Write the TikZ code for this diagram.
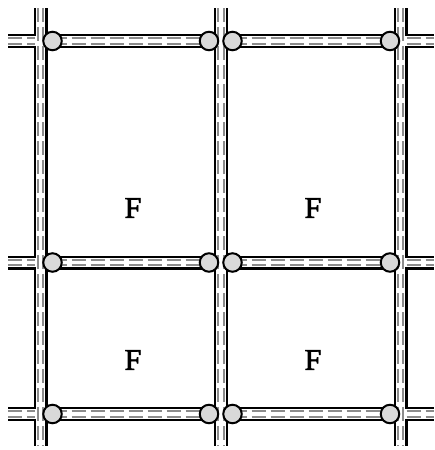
\documentclass[tikz,border=0pt]{standalone}
\usepackage{fontspec}
\setmainfont{Liberation Serif}
\tikzset{
  x=1pt,y=-1pt,
  roadout/.style={line width=14pt,black},
  roadin/.style={line width=9.6pt,white},
  lane/.style={line width=2pt,black!45,dash pattern=on 14pt off 5pt},
  joint/.style={circle,draw=black,fill=black!15,line width=2pt,minimum size=18.5pt,inner sep=0pt},
  lab/.style={font=\fontsize{30}{30}\selectfont\addfontfeature{FakeBold=2},inner sep=0pt}
}
\begin{document}
\begin{tikzpicture}
\useasboundingbox (0,0) rectangle (435,450);
\fill[white] (0,0) rectangle (435,450);
% road ends
\foreach \x/\n in {40.5/a,221/b,400.5/c}{
  \coordinate (v\n t) at (\x,8);
  \coordinate (v\n b) at (\x,446);
}
% junctions
\foreach \y/\r in {41/1,262.5/2,414/3}{
  \coordinate (l\r) at (8,\y);
  \coordinate (lc\r) at (40.5,\y);
  \coordinate (rc\r) at (400.5,\y);
  \coordinate (r\r) at (434,\y);
  \coordinate (p\r) at (52.5,\y);
  \coordinate (q\r) at (209,\y);
  \coordinate (s\r) at (232.5,\y);
  \coordinate (t\r) at (390,\y);
}
% outlines, then road surface
\foreach \st in {roadout,roadin}{
  \foreach \r in {1,2,3}{
    \draw[\st] (l\r) -- (lc\r);
    \draw[\st] (p\r) -- (q\r);
    \draw[\st] (s\r) -- (t\r);
    \draw[\st] (rc\r) -- (r\r);
  }
  \foreach \n in {a,b,c}{\draw[\st] (v\n t) -- (v\n b);}
}
% re-open the side roads onto the outer columns
\foreach \r in {1,2,3}{
  \draw[roadin] (l\r) -- (lc\r);
  \draw[roadin] (rc\r) -- (r\r);
}
% lanes
\foreach \off in {-2.6,2.6}{
  \foreach \r in {1,2,3}{
    \draw[lane] ([yshift=\off pt]l\r) -- ([xshift=-6pt,yshift=\off pt]lc\r);
    \draw[lane] ([yshift=\off pt]p\r) -- ([yshift=\off pt]q\r);
    \draw[lane] ([yshift=\off pt]s\r) -- ([yshift=\off pt]t\r);
    \draw[lane] ([xshift=6pt,yshift=\off pt]rc\r) -- ([yshift=\off pt]r\r);
  }
  \foreach \n in {a,b,c}{\draw[lane] ([xshift=\off pt]v\n t) -- ([xshift=\off pt]v\n b);}
}
% joints
\foreach \r in {1,2,3}{
  \node[joint] (P\r) at (p\r) {};
  \node[joint] (Q\r) at (q\r) {};
  \node[joint] (S\r) at (s\r) {};
  \node[joint] (T\r) at (t\r) {};
}
\node[lab] (f1) at (133,208) {F};
\node[lab] (f2) at (313,208) {F};
\node[lab] (f3) at (133,360) {F};
\node[lab] (f4) at (313,360) {F};
\end{tikzpicture}
\end{document}
